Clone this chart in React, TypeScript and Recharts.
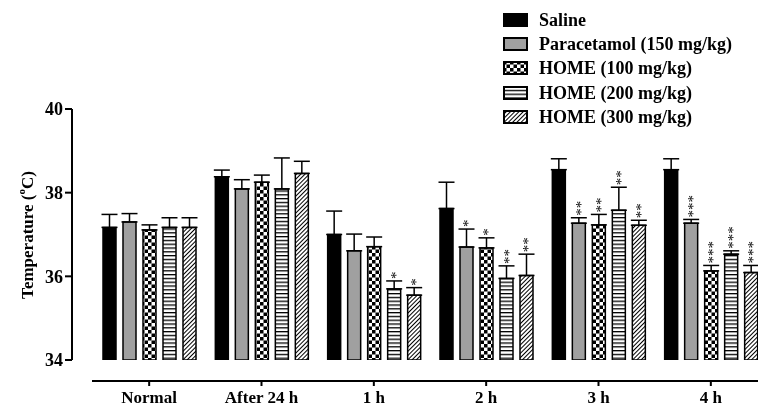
import React from 'react';
import { BarChart, Bar, XAxis, YAxis, ErrorBar, LabelList } from 'recharts';

const groups = ['Normal', 'After 24 h', '1 h', '2 h', '3 h', '4 h'];

const saline = [37.17, 38.38, 37.0, 37.62, 38.55, 38.55];
const salineErr = [0.31, 0.16, 0.56, 0.63, 0.26, 0.26];
const salineSig = ['', '', '', '', '', ''];

const paracetamol = [37.3, 38.09, 36.61, 36.7, 37.27, 37.27];
const paracetamolErr = [0.2, 0.22, 0.4, 0.43, 0.13, 0.09];
const paracetamolSig = ['', '', '', '*', '**', '***'];

const home100 = [37.11, 38.25, 36.71, 36.68, 37.23, 36.13];
const home100Err = [0.12, 0.17, 0.23, 0.24, 0.25, 0.13];
const home100Sig = ['', '', '', '*', '**', '***'];

const home200 = [37.17, 38.09, 35.7, 35.95, 37.58, 36.53];
const home200Err = [0.23, 0.74, 0.19, 0.3, 0.55, 0.08];
const home200Sig = ['', '', '*', '**', '**', '***'];

const home300 = [37.17, 38.46, 35.55, 36.02, 37.22, 36.09];
const home300Err = [0.23, 0.29, 0.18, 0.51, 0.12, 0.17];
const home300Sig = ['', '', '*', '**', '**', '***'];

const yTicks = [34, 36, 38, 40];

const series = [
  { key: 's0', name: 'Saline', fill: '#000', values: saline, errs: salineErr, sig: salineSig },
  { key: 's1', name: 'Paracetamol (150 mg/kg)', fill: '#a0a0a0', values: paracetamol, errs: paracetamolErr, sig: paracetamolSig },
  { key: 's2', name: 'HOME (100 mg/kg)', fill: 'url(#checker)', values: home100, errs: home100Err, sig: home100Sig },
  { key: 's3', name: 'HOME (200 mg/kg)', fill: 'url(#hstripe)', values: home200, errs: home200Err, sig: home200Sig },
  { key: 's4', name: 'HOME (300 mg/kg)', fill: 'url(#diag)', values: home300, errs: home300Err, sig: home300Sig },
];

const data = groups.map((g, i) => {
  const row: any = { group: g };
  series.forEach((s) => {
    row[s.key] = s.values[i];
    row[s.key + 'e'] = [0, s.errs[i]];
    row[s.key + 'sig'] = s.sig[i];
  });
  return row;
});

// the last group runs to the right edge of the page, so drop the body margin
if (typeof document !== 'undefined') document.body.style.margin = '0';

const FONT = "'Times New Roman', 'Liberation Serif', 'DejaVu Serif', serif";
const Y_MIN = 34;

function makeStars(s: any) {
  return (props: any) => {
    const { x, y, width, height, index } = props;
    const text: string = s.sig[index];
    if (!text) return null;
    const v = s.values[index];
    const pxPerUnit = height / (v - Y_MIN);
    const top = y - s.errs[index] * pxPerUnit;
    // stars run upward from just above the error cap (text turned 90deg)
    const ax = x + width / 2 + 7;
    const ay = top - 2;
    return (
      <text
        x={ax}
        y={ay}
        transform={`rotate(-90 ${ax} ${ay})`}
        fontFamily={FONT}
        fontSize={15}
        fill="#000"
        stroke="none"
      >
        {text}
      </text>
    );
  };
}

const YLabel = () => (
  <text
    x={19}
    y={227}
    transform="rotate(-90 19 227)"
    textAnchor="middle"
    dominantBaseline="central"
    fontFamily={FONT}
    fontWeight="bold"
    fontSize={17}
    fill="#000"
  >
    Temperature (<tspan baselineShift="super" fontSize={11}>o</tspan>C)
  </text>
);

function Patterns() {
  return (
    <svg width={0} height={0} style={{ position: 'absolute' }}>
      <defs>
        <pattern id="checker" width={7} height={7} patternUnits="userSpaceOnUse">
          <rect width={7} height={7} fill="#fff" />
          <rect width={3.5} height={3.5} fill="#000" />
          <rect x={3.5} y={3.5} width={3.5} height={3.5} fill="#000" />
        </pattern>
        <pattern id="hstripe" width={4} height={3.8} patternUnits="userSpaceOnUse">
          <rect width={4} height={3.8} fill="#fff" />
          <rect width={4} height={1.3} fill="#000" />
        </pattern>
        <pattern id="diag" width={3} height={3} patternUnits="userSpaceOnUse" patternTransform="rotate(45)">
          <rect width={3} height={3} fill="#fff" />
          <rect width={1} height={3} fill="#000" />
        </pattern>
      </defs>
    </svg>
  );
}

export default function App() {
  return (
    <div style={{ position: 'relative', width: 758, height: 407, overflow: 'hidden', willChange: 'transform' }}>
      <Patterns />
      <div style={{ position: 'absolute', left: 8, top: 8 }}>
        <BarChart
          width={770}
          height={399}
          data={data}
          margin={{ top: 101, right: 0, left: 0, bottom: 47 }}
          barSize={13}
          barGap={7}
        >
          <XAxis dataKey="group" hide padding={{ left: 21, right: 11 }} />
          <YAxis
            domain={[34, 40]}
            ticks={yTicks}
            width={64}
            tickSize={7}
            allowDataOverflow
            axisLine={{ stroke: '#000', strokeWidth: 2 }}
            tickLine={{ stroke: '#000', strokeWidth: 2 }}
            tick={{ fill: '#000', fontFamily: FONT, fontWeight: 'bold', fontSize: 18 }}
            label={<YLabel />}
          />
          {series.map((s) => (
            <Bar
              key={s.key}
              dataKey={s.key}
              name={s.name}
              fill={s.fill}
              stroke="#000"
              strokeWidth={1.5}
              isAnimationActive={false}
            >
              <ErrorBar dataKey={s.key + 'e'} width={8} stroke="#000" strokeWidth={1.5} direction="y" />
              <LabelList dataKey={s.key + 'sig'} content={makeStars(s)} />
            </Bar>
          ))}
        </BarChart>
      </div>
      <div style={{ position: 'absolute', left: 8, top: 8, pointerEvents: 'none' }}>
        <BarChart width={770} height={399} data={data} margin={{ top: 0, right: 0, left: 84, bottom: 0 }}>
          <XAxis
            dataKey="group"
            height={26}
            padding={{ left: 1, right: 11 }}
            tickSize={5}
            tickMargin={5}
            interval={0}
            axisLine={{ stroke: '#000', strokeWidth: 2 }}
            tickLine={{ stroke: '#000', strokeWidth: 2 }}
            tick={{ fill: '#000', fontFamily: FONT, fontWeight: 'bold', fontSize: 17 }}
          />
          <YAxis hide domain={[34, 40]} />
          <Bar dataKey="s0" fill="none" stroke="none" isAnimationActive={false} />
        </BarChart>
      </div>
      <div style={{ position: 'absolute', left: 503, top: 8, fontFamily: FONT, fontWeight: 'bold', fontSize: 18 }}>
        {series.map((s) => (
          <div key={s.key} style={{ display: 'flex', alignItems: 'center', height: 24.3 }}>
            <svg width={26} height={15} style={{ marginRight: 10 }}>
              <rect x={1} y={1} width={23} height={12} fill={s.fill} stroke="#000" strokeWidth={2} />
            </svg>
            <span>{s.name}</span>
          </div>
        ))}
      </div>
    </div>
  );
}
